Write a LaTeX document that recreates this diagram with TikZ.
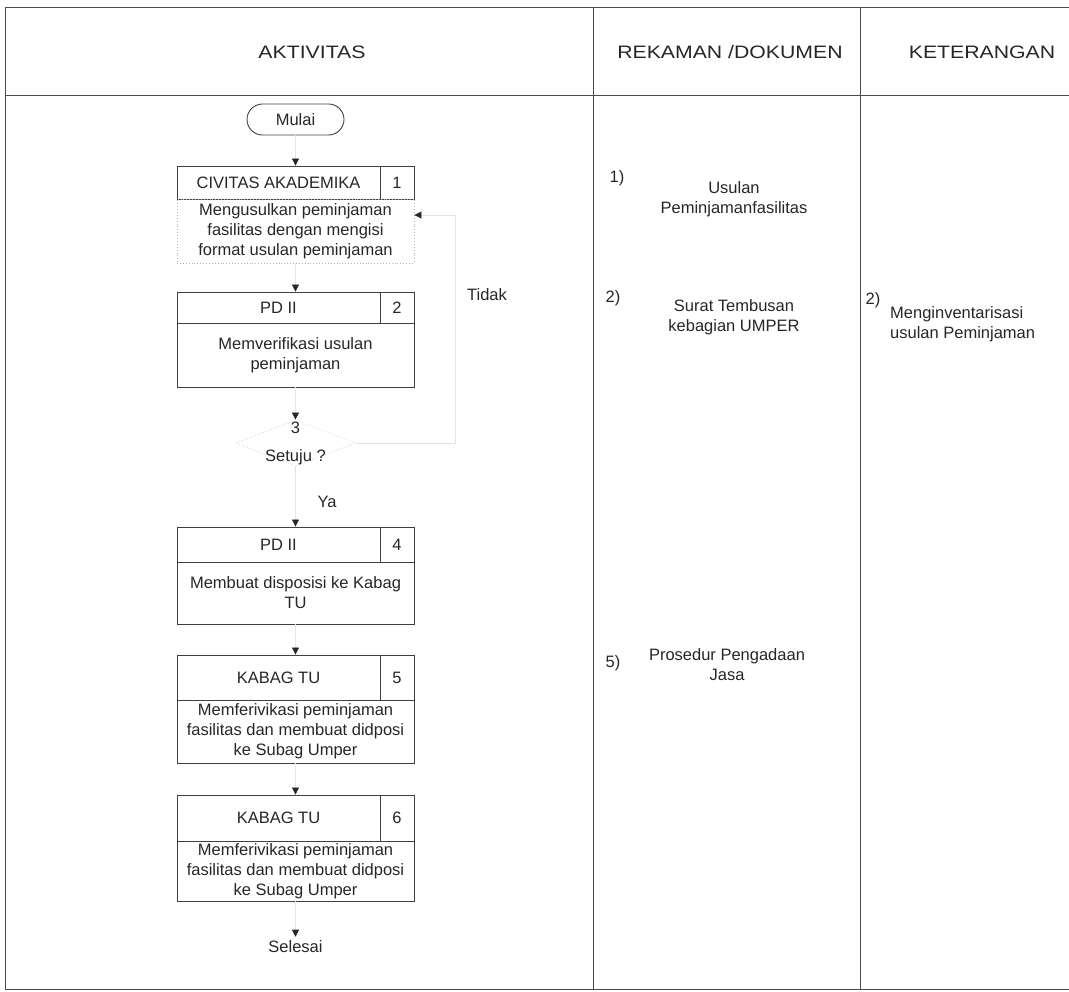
\documentclass[tikz,border=0pt]{standalone}
\usepackage{fontspec}
\setmainfont{Liberation Sans}
\newfontfamily\hdrfont[FakeStretch=1.18]{Liberation Sans}
\usetikzlibrary{arrows.meta,shapes.geometric,shapes.misc}
\newcommand\bodyfs{\fontsize{16.5}{20}\selectfont}
\begin{document}
\begin{tikzpicture}[x=1pt,y=-1pt,
  tbl/.style={draw=black!70, line width=0.9pt},
  colhdr/.style={font=\hdrfont\fontsize{18}{22}\selectfont, text=black!85, inner sep=0pt},
  hdr/.style={draw=black!75, line width=0.9pt, minimum width=203pt, inner sep=0pt, font=\bodyfs, text=black!85},
  num/.style={draw=black!75, line width=0.9pt, minimum width=34pt, inner sep=0pt, font=\bodyfs, text=black!85},
  bodybox/.style={draw=black!75, line width=0.9pt, minimum width=237pt, inner sep=0pt, align=center, font=\bodyfs, text=black!85},
  txt/.style={font=\bodyfs, text=black!85, align=center, inner sep=0pt},
  startstop/.style={rounded rectangle, draw=black!75, line width=0.9pt, minimum width=97pt, minimum height=31pt, inner sep=0pt, font=\bodyfs, text=black!85},
  dec/.style={diamond, draw=black!18, dotted, line width=0.8pt, minimum width=120pt, minimum height=46pt, inner sep=0pt},
  conn/.style={draw=black!10, line width=0.6pt, -{Triangle[width=7pt,length=7pt,color=black!85]}}
]
\useasboundingbox (0,0) rectangle (1069,992);

% table
\draw[tbl] (5,7) -- (1069,7);
\draw[tbl] (5,95) -- (1069,95);
\draw[tbl] (5,7) -- (5,989);
\draw[tbl] (593,7) -- (593,989);
\draw[tbl] (860,7) -- (860,989);
\draw[tbl] (5,989) -- (1069,989);

\node[colhdr] (ha) at (312,52) {AKTIVITAS};
\node[colhdr] (hr) at (730,52) {REKAMAN /DOKUMEN};
\node[colhdr] (hk) at (982,52) {KETERANGAN};

% flow
\node[startstop] (mulai) at (295.5,119.5) {Mulai};

\node[hdr, minimum height=33pt] (h1) at (278.5,182.5) {CIVITAS AKADEMIKA};
\node[num, minimum height=33pt] (n1) at (397,182.5) {1};
\node[bodybox, minimum height=64pt, draw=black!30, dotted] (b1) at (295.5,231) {Mengusulkan peminjaman\\fasilitas dengan mengisi\\format usulan peminjaman};

\node[hdr, minimum height=31pt] (h2) at (278.5,307.5) {PD II};
\node[num, minimum height=31pt] (n2) at (397,307.5) {2};
\node[bodybox, minimum height=64pt] (b2) at (295.5,355) {Memverifikasi usulan\\peminjaman};

\node[dec] (dec) at (295.5,443) {};
\node[txt] (d3) at (295.5,428) {3};
\node[txt] (dq) at (295.5,457) {Setuju ?};

\node[hdr, minimum height=35pt] (h4) at (278.5,544.5) {PD II};
\node[num, minimum height=35pt] (n4) at (397,544.5) {4};
\node[bodybox, minimum height=62pt] (b4) at (295.5,593) {Membuat disposisi ke Kabag\\TU};

\node[hdr, minimum height=45pt] (h5) at (278.5,677.5) {KABAG TU};
\node[num, minimum height=45pt] (n5) at (397,677.5) {5};
\node[bodybox, minimum height=63pt] (b5) at (295.5,731.5) {Memferivikasi peminjaman\\fasilitas dan membuat didposi\\ke Subag Umper};

\node[hdr, minimum height=46pt] (h6) at (278.5,818) {KABAG TU};
\node[num, minimum height=46pt] (n6) at (397,818) {6};
\node[bodybox, minimum height=60pt] (b6) at (295.5,871) {Memferivikasi peminjaman\\fasilitas dan membuat didposi\\ke Subag Umper};

\node[txt, inner sep=4pt] (end) at (295.5,947) {Selesai};

\node[txt] (tidak) at (487,295) {Tidak};
\node[txt] (ya) at (327,502) {Ya};

% connectors
\draw[conn] (mulai.south) -- (mulai.south |- h1.north);
\draw[conn] (b1.south) -- (b1.south |- h2.north);
\draw[conn] (b2.south) -- (dec.north);
\draw[conn] (dec.south) -- (dec.south |- h4.north);
\draw[conn] (b4.south) -- (b4.south |- h5.north);
\draw[conn] (b5.south) -- (b5.south |- h6.north);
\draw[conn] (b6.south) -- (end.north);
\coordinate (lt) at (455,215);
\draw[conn] (dec.east) -| (lt) -- (b1.east |- lt);

% records
\node[txt] (r1n) at (617,178) {1)};
\node[txt] (r1) at (734,199.5) {Usulan\\Peminjamanfasilitas};
\node[txt] (r2n) at (613,298) {2)};
\node[txt] (r2) at (734,317.5) {Surat Tembusan\\kebagian UMPER};
\node[txt] (r5n) at (613,663) {5)};
\node[txt] (r5) at (727,665) {Prosedur Pengadaan\\Jasa};

% keterangan
\node[txt] (k2n) at (873,300) {2)};
\node[txt, anchor=west, align=left] (k2) at (890,324) {Menginventarisasi\\usulan Peminjaman};
\end{tikzpicture}
\end{document}
